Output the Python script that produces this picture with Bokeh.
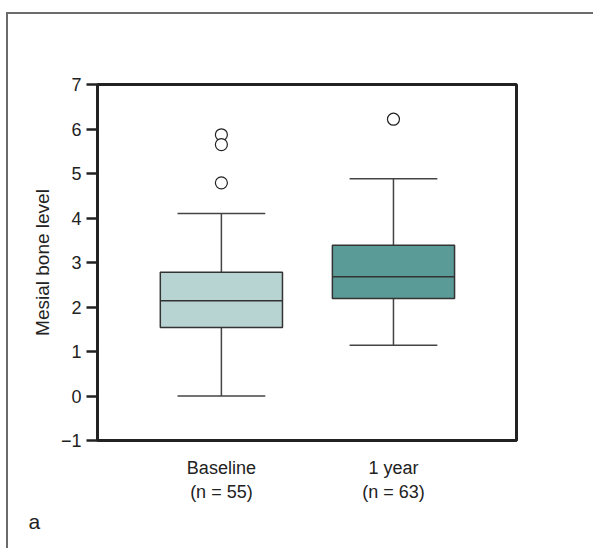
from bokeh.plotting import figure
from bokeh.models import Range1d, FixedTicker, Title
from bokeh.embed import file_html
from bokeh.resources import INLINE

# data
groups = ["Baseline\n(n = 55)", "1 year\n(n = 63)"]
xpos = [1, 2]
q1 = [1.54, 2.19]
median = [2.14, 2.68]
q3 = [2.78, 3.39]
lower = [0.0, 1.14]
upper = [4.10, 4.88]
out_x = [1, 1, 1, 2]
out_y = [5.87, 5.65, 4.79, 6.22]
colors = ["#b7d3d2", "#5a9b98"]
yticks = [-1, 0, 1, 2, 3, 4, 5, 6, 7]

FONT = "Liberation Sans"
W, H = 593, 548
p = figure(width=W, height=H, output_backend="svg", toolbar_location=None,
           x_range=Range1d(0.28, 2.715), y_range=Range1d(-1, 7),
           min_border_left=97, min_border_right=77, min_border_top=84, min_border_bottom=108)
p.grid.visible = False
p.outline_line_color = "#222222"
p.outline_line_width = 3
p.background_fill_color = "white"
p.border_fill_color = None
p.styles = {
    "background": "linear-gradient(#6b6b6b,#6b6b6b) 6px 12px / 2px 100% no-repeat, "
                  "linear-gradient(#6b6b6b,#6b6b6b) 6px 12px / 100% 2px no-repeat, white"
}

bw = 0.71
cw = 0.51
# whiskers
p.segment(x0=xpos, x1=xpos, y0=q3, y1=upper, line_color="#444444", line_width=1.5)
p.segment(x0=xpos, x1=xpos, y0=q1, y1=lower, line_color="#444444", line_width=1.5)
p.segment(x0=[x - cw / 2 for x in xpos], x1=[x + cw / 2 for x in xpos], y0=upper, y1=upper,
          line_color="#444444", line_width=1.5)
p.segment(x0=[x - cw / 2 for x in xpos], x1=[x + cw / 2 for x in xpos], y0=lower, y1=lower,
          line_color="#444444", line_width=1.5)
# boxes
p.vbar(x=xpos, width=bw, bottom=q1, top=q3, fill_color=colors, line_color="#333333", line_width=1.5)
p.segment(x0=[x - bw / 2 for x in xpos], x1=[x + bw / 2 for x in xpos], y0=median, y1=median,
          line_color="#333333", line_width=1.5)
# outliers
p.scatter(out_x, out_y, size=12, marker="circle", fill_color="white", line_color="#222222", line_width=1.2)

# y axis
yax = p.yaxis[0]
yax.ticker = FixedTicker(ticks=yticks)
yax.major_label_overrides = {-1: "\u22121"}
yax.axis_line_color = "#222222"
yax.axis_line_width = 3
yax.major_tick_line_color = "#222222"
yax.major_tick_line_width = 2.5
yax.major_tick_out = 11
yax.major_tick_in = 0
yax.minor_tick_line_color = None
yax.major_label_text_font = FONT
yax.major_label_text_font_size = "18px"
yax.major_label_text_color = "#222222"
yax.major_label_standoff = 5
yax.axis_label = "Mesial bone level"
yax.axis_label_text_font = FONT
yax.axis_label_text_font_style = "normal"
yax.axis_label_text_font_size = "19px"
yax.axis_label_text_color = "#222222"
yax.axis_label_standoff = 5

# x axis
xax = p.xaxis[0]
xax.ticker = FixedTicker(ticks=xpos)
xax.major_label_overrides = {x: g for x, g in zip(xpos, groups)}
xax.axis_line_color = None
xax.major_tick_line_color = None
xax.minor_tick_line_color = None
xax.major_label_text_font = FONT
xax.major_label_text_font_size = "18px"
xax.major_label_text_color = "#222222"
xax.major_label_text_line_height = 1.22
xax.major_label_standoff = 11

# panel letter
p.add_layout(Title(text="a", align="left", offset=-69, text_font=FONT, text_font_size="21px",
                   text_font_style="normal", text_color="#222222", standoff=6), "below")

open("out.html", "w").write(file_html(p, INLINE))
